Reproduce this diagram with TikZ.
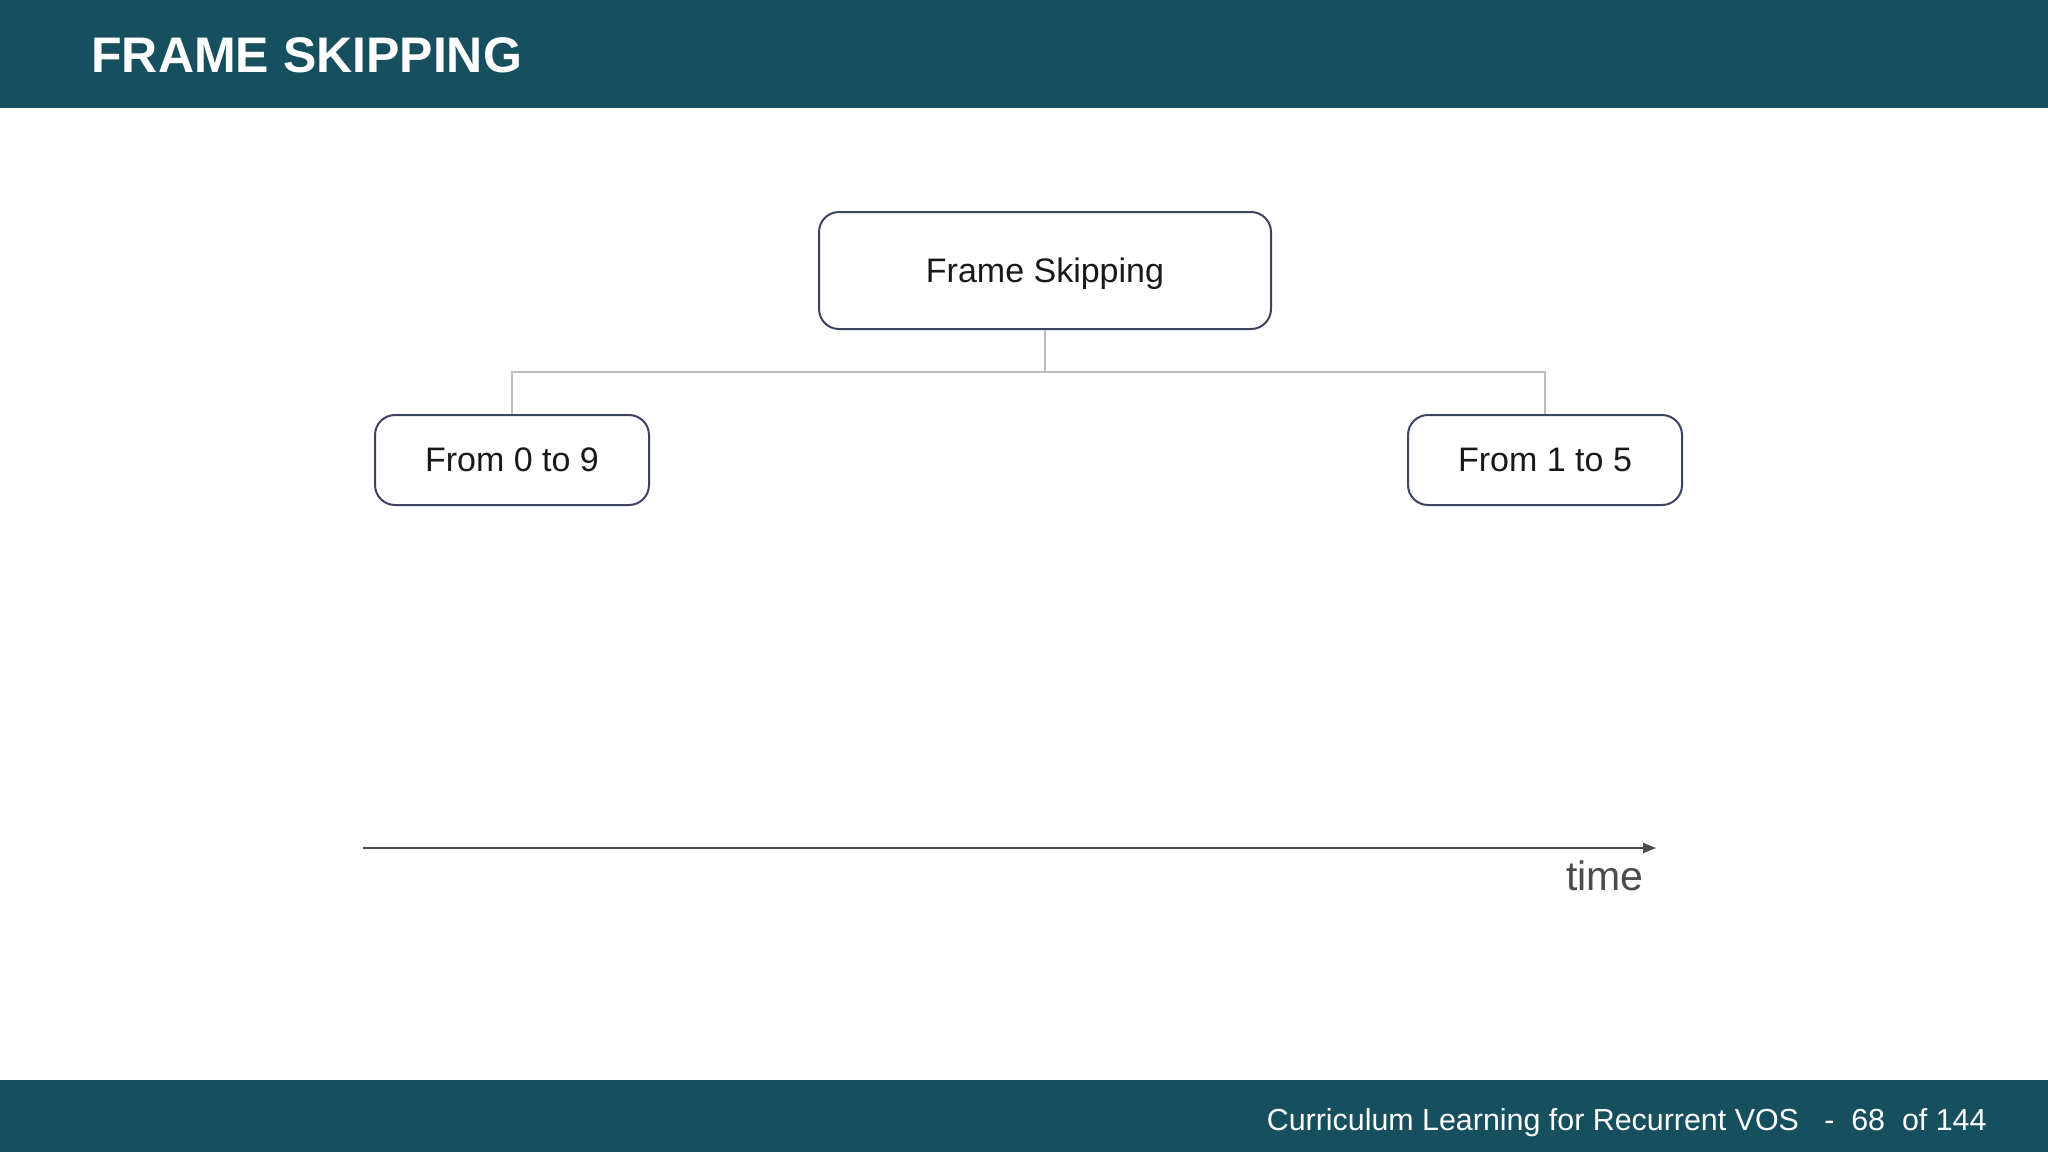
\documentclass[tikz,border=0pt]{standalone}
\usepackage{fontspec}
\setmainfont{Liberation Sans}
\usetikzlibrary{arrows.meta,positioning,shapes}
\definecolor{barteal}{HTML}{164F5D}
\definecolor{boxline}{HTML}{3D4461}
\definecolor{treeline}{HTML}{BDBDBD}
\definecolor{axisgray}{HTML}{4A4A4F}
\tikzset{
	stage/.style = {draw = boxline, line width = 1pt, rounded corners = 10pt, align = center, text depth = 0pt, text = black!90, font = \fontsize{17pt}{20pt}\selectfont},
	tree/.style = {draw = treeline, line width = 1pt},
}

\begin{document}
\begin{tikzpicture}[x = 0.5pt, y = -0.5pt]
	\useasboundingbox (0,0) rectangle (2048,1152);
	\fill[white] (0,0) rectangle (2048,1152);
	% header and footer bars
	\fill[barteal] (0,0) rectangle (2048,108);
	\fill[barteal] (0,1080) rectangle (2048,1152);
	\node[anchor = base west, inner sep = 0, text = white, font = \fontsize{25pt}{30pt}\selectfont\bfseries] (title) at (91,72) {FRAME SKIPPING};
	\node[anchor = base east, inner sep = 0, text = white, font = \fontsize{15.2pt}{18pt}\selectfont] (footer) at (1987,1130) {Curriculum Learning for Recurrent VOS \ \ - \ 68 \ of 144};
	% the tree
	\node[stage, minimum width = 226pt, minimum height = 58.5pt] (fs) at (1045,270.5) {Frame Skipping};
	\node[stage, minimum width = 137pt, minimum height = 45pt] (from09) at (512,460) {From 0 to 9};
	\node[stage, minimum width = 137pt, minimum height = 45pt] (from15) at (1545,460) {From 1 to 5};
	\coordinate (split) at (1045,372);
	\draw[tree] (fs.south) -- (split) -| (from09.north);
	\draw[tree] (split) -| (from15.north);
	% time axis
	\coordinate (t0) at (363,848);
	\coordinate (t1) at (1656,848);
	\draw[-{Triangle[length = 6.5pt, width = 5pt]}, line width = 1pt, axisgray] (t0) -- (t1);
	\node[anchor = base east, inner sep = 0, text = axisgray, font = \fontsize{20.5pt}{24pt}\selectfont] (time) at (1644,890) {time};
\end{tikzpicture}
\end{document}
